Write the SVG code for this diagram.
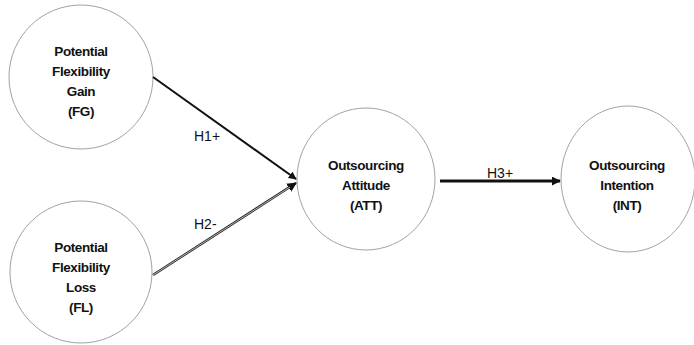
<svg xmlns="http://www.w3.org/2000/svg" width="694" height="345" viewBox="0 0 694 345">
<style>
.node{fill:#fff;stroke:#8a8a8a;stroke-width:0.8}
.nt{font-family:"Liberation Sans",Arial,sans-serif;font-size:13.5px;font-weight:bold;fill:#111;text-anchor:middle;letter-spacing:-0.4px}
.lb{font-family:"Liberation Sans",Arial,sans-serif;font-size:14px;fill:#111}
</style>
<defs>
<marker id="ah" viewBox="0 0 10 10" refX="9" refY="5" markerWidth="4" markerHeight="4" orient="auto" markerUnits="strokeWidth">
<path d="M0,0 L10,5 L0,10 z" fill="#111"/>
</marker>
<marker id="ah2" viewBox="0 0 10 10" refX="9" refY="5" markerWidth="3" markerHeight="3" orient="auto" markerUnits="strokeWidth">
<path d="M0,0 L10,5 L0,10 z" fill="#111"/>
</marker>
</defs>
<g id="FG">
<circle class="node" cx="81" cy="77" r="72"/>
<text class="nt" x="81" y="56">Potential</text>
<text class="nt" x="81" y="76">Flexibility</text>
<text class="nt" x="81" y="96">Gain</text>
<text class="nt" x="81" y="116">(FG)</text>
</g>
<g id="FL">
<circle class="node" cx="81" cy="272" r="71"/>
<text class="nt" x="81" y="252">Potential</text>
<text class="nt" x="81" y="272">Flexibility</text>
<text class="nt" x="81" y="292">Loss</text>
<text class="nt" x="81" y="312">(FL)</text>
</g>
<g id="ATT">
<ellipse class="node" cx="366" cy="179" rx="69" ry="71"/>
<text class="nt" x="366" y="170">Outsourcing</text>
<text class="nt" x="366" y="190">Attitude</text>
<text class="nt" x="366" y="210">(ATT)</text>
</g>
<g id="INT">
<ellipse class="node" cx="628" cy="179" rx="67" ry="73"/>
<text class="nt" x="627" y="170">Outsourcing</text>
<text class="nt" x="627" y="190">Intention</text>
<text class="nt" x="627" y="210">(INT)</text>
</g>
<g id="connectors">
<line x1="153" y1="77" x2="296" y2="179" stroke="#111" stroke-width="2" marker-end="url(#ah)"/>
<line x1="153" y1="275" x2="296" y2="183" stroke="#222" stroke-width="2.4" marker-end="url(#ah)"/>
<line x1="153" y1="275" x2="290" y2="187" stroke="#ddd" stroke-width="0.8"/>
<line x1="440" y1="181" x2="560" y2="181" stroke="#111" stroke-width="3" marker-end="url(#ah2)"/>
<text class="lb" x="194" y="141">H1+</text>
<text class="lb" x="194" y="229">H2-</text>
<text class="lb" x="487" y="178">H3+</text>
</g>
</svg>
